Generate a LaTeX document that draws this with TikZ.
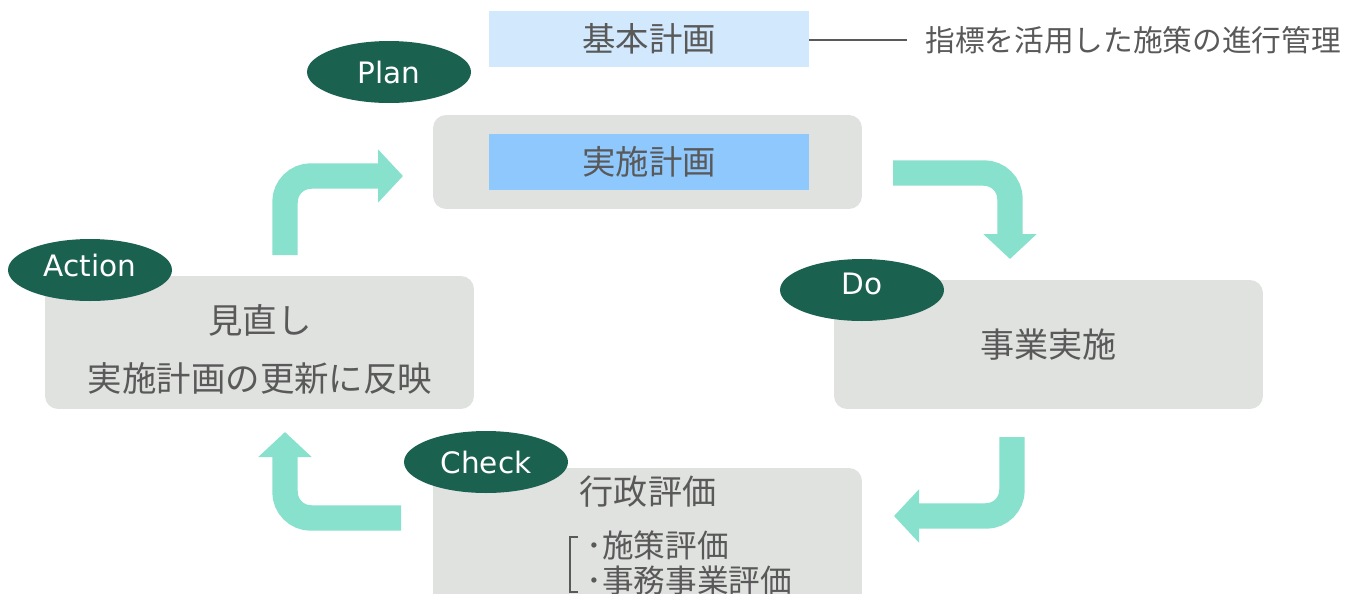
\documentclass[tikz,border=0pt]{standalone}
\usepackage{fontspec}
\setmainfont{Noto Sans CJK JP}
\newfontfamily\latinfont{DejaVu Sans}
\usetikzlibrary{arrows.meta}
\usetikzlibrary{shapes.geometric}
\definecolor{txtgray}{HTML}{595959}
\definecolor{boxgray}{HTML}{E0E2DF}
\definecolor{darkgreen}{HTML}{1A6150}
\definecolor{mint}{HTML}{88E1CD}
\definecolor{paleblue}{HTML}{D2E8FC}
\definecolor{midblue}{HTML}{8EC8FC}
\tikzset{Stage/.style={rectangle, rounded corners=0.26cm, fill=boxgray, minimum width=8.58cm, text=txtgray, font=\fontsize{19.4}{23}\selectfont, align=center},
         Plate/.style={rectangle, fill=#1, minimum width=6.4cm, minimum height=1.12cm, text=txtgray, font=\fontsize{19}{23}\selectfont},
         Tag/.style={ellipse, fill=darkgreen, minimum width=3.28cm, minimum height=1.24cm, inner sep=0pt, text=white, font=\latinfont\fontsize{16.8}{19}\selectfont},
         Cycle/.style={draw=mint, line width=14.5pt, rounded corners=0.52cm, -{Triangle[length=0.5cm, width=1.04cm]}}}

\begin{document}
\begin{tikzpicture}[x=0.02cm, y=-0.02cm]
        \useasboundingbox (0,0) rectangle (1357,593);
        % boxes
        \node[Stage, minimum height=1.88cm] (P) at (647.5,162){};
        \node[Stage, minimum height=2.58cm] (D) at (1048.5,344.5){\raisebox{-0.1cm}{事業実施}};
        \node[Stage, minimum height=2.66cm] (A) at (259.5,342.5){};
        \node[Stage, minimum height=2.8cm] (C) at (647.5,538){};
        \node[Plate=paleblue] (K) at (649,39){基本計画};
        \node[Plate=midblue] (J) at (649,162){実施計画};
        \node[anchor=west, inner sep=0pt, text=txtgray, font=\fontsize{16.9}{20}\selectfont] (N) at (925,40){指標を活用した施策の進行管理};
        \coordinate (Ne) at (907,40);
        \draw[txtgray, line width=0.8pt] (K.east |- Ne) -- (Ne);

        % texts
        \node[text=txtgray, font=\fontsize{19.6}{23}\selectfont] (A1) at (260,320){見直し};
        \node[text=txtgray, font=\fontsize{19.6}{23}\selectfont] (A2) at (260,378){実施計画の更新に反映};
        \node[text=txtgray, font=\fontsize{19.4}{23}\selectfont] (C1) at (648,492){行政評価};
        \node[anchor=west, inner sep=0pt, text=txtgray, font=\fontsize{18}{20}\selectfont] (C2) at (586,545){･施策評価};
        \node[anchor=west, inner sep=0pt, text=txtgray, font=\fontsize{18}{20}\selectfont] (C3) at (586,581){･事務事業評価};
        \draw[txtgray, line width=0.6pt] (578,537) -- (570,537) -- (570,592) -- (578,592);

        % tags
        \node[Tag] (TP) at (389,72){Plan};
        \node[Tag] (TD) at (862,290){\raisebox{0.26cm}{Do}};
        \node[Tag] (TA) at (90,270){\raisebox{0.18cm}{Action}};
        \node[Tag] (TC) at (486,462){Check};

        % arrows
        \coordinate (a1) at (285,255);
        \coordinate (b1) at (403,176);
        \coordinate (a2) at (893,173);
        \coordinate (b2) at (1010,259);
        \coordinate (a3) at (1012,437);
        \coordinate (b3) at (894,516);
        \coordinate (a4) at (401,518);
        \coordinate (b4) at (285,432);
        \draw[Cycle] (a1) |- (b1);
        \draw[Cycle] (a2) -| (b2);
        \draw[Cycle] (a3) |- (b3);
        \draw[Cycle] (a4) -| (b4);

    \end{tikzpicture}
\end{document}
